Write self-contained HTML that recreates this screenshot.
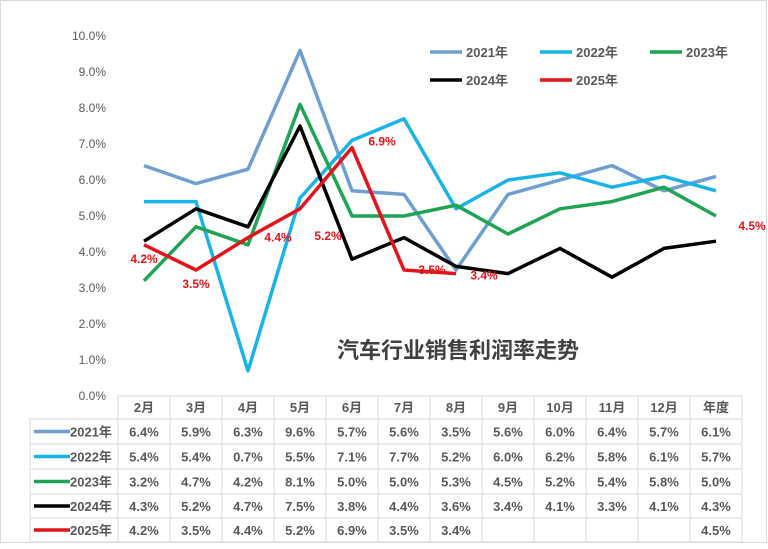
<!DOCTYPE html>
<html><head><meta charset="utf-8"><style>
body{margin:0;background:#fff;}
svg text{font-family:"Liberation Sans","Noto Sans CJK SC",sans-serif;}
</style></head><body>
<svg width="768" height="544" viewBox="0 0 768 544">
<rect x="0.5" y="0.5" width="766" height="542" fill="#fff" stroke="#d9d9d9"/>
<g id="grid"></g><g id="series"></g><g id="table"></g><g id="legend"></g>
<text x="458" y="358" font-size="22" font-weight="bold" fill="#404040" text-anchor="middle">汽车行业销售利润率走势</text>
</svg>
<script>
const categories=["2月","3月","4月","5月","6月","7月","8月","9月","10月","11月","12月","年度"];
const seriesNames=["2021年","2022年","2023年","2024年","2025年"];
const s2021=[6.4,5.9,6.3,9.6,5.7,5.6,3.5,5.6,6.0,6.4,5.7,6.1];
const s2022=[5.4,5.4,0.7,5.5,7.1,7.7,5.2,6.0,6.2,5.8,6.1,5.7];
const s2023=[3.2,4.7,4.2,8.1,5.0,5.0,5.3,4.5,5.2,5.4,5.8,5.0];
const s2024=[4.3,5.2,4.7,7.5,3.8,4.4,3.6,3.4,4.1,3.3,4.1,4.3];
const s2025=[4.2,3.5,4.4,5.2,6.9,3.5,3.4,null,null,null,null,4.5];
const yTicks=[0,1,2,3,4,5,6,7,8,9,10];
const colors=["#6f9fd0","#1ab3e6","#1fa453","#000000","#e3141b"];
const allSeries=[s2021,s2022,s2023,s2024,s2025];
const NS="http://www.w3.org/2000/svg";
const x0=118,cw=52,yBase=396,yPer=36;
const xS=i=>x0+cw*i+cw/2;
const yS=v=>yBase-v*yPer;
function mk(t,a,p,txt){const e=document.createElementNS(NS,t);for(const k in a)e.setAttribute(k,a[k]);if(txt!=null)e.textContent=txt;p.appendChild(e);return e;}
const grid=document.getElementById('grid');
yTicks.forEach(t=>{
 const e=mk('text',{x:106,y:yS(t)+4,'font-size':12,fill:'#595959','text-anchor':'end'},grid,t.toFixed(1)+'%');
 
 
});
const ser=document.getElementById('series');
allSeries.forEach((s,k)=>{
 let d='',pen=false;
 s.forEach((v,i)=>{
  if(k===4&&i===11)return;
  if(v==null){pen=false;return;}
  d+=(pen?'L':'M')+xS(i)+' '+yS(v)+' ';pen=true;
 });
 const p=mk('path',{d:d,fill:'none',stroke:colors[k],'stroke-width':3.5,'stroke-linejoin':'round'},ser);
 
 
});
const offs=[[0,18],[0,18],[30,4],[28,31],[30,-2],[28,4],[28,6],[0,0],[0,0],[0,0],[0,0],[36,-4]];
s2025.forEach((v,i)=>{
 if(v==null)return;
 const t=mk('text',{x:xS(i)+offs[i][0],y:yS(v)+offs[i][1],'font-size':12,'font-weight':'bold',fill:'#e3141b','text-anchor':'middle'},ser,v.toFixed(1)+'%');
 
 
});
const lg=document.getElementById('legend');
const lpos=[[430,52],[540,52],[650,52],[430,80],[540,80]];
seriesNames.forEach((n,k)=>{
 const [x,y]=lpos[k];
 const g=mk('g',{},lg);
 
 
 mk('line',{x1:x,y1:y,x2:x+32,y2:y,stroke:colors[k],'stroke-width':3.5},g);
 mk('text',{x:x+36,y:y+5,'font-size':13,'font-weight':'bold',fill:'#595959'},g,n);
});
const tb=document.getElementById('table');
const rowY=[396,419,444,469,494,518,542];
const tx1=x0+cw*12;
for(let i=0;i<=12;i++) mk('line',{x1:x0+cw*i,y1:396,x2:x0+cw*i,y2:542,stroke:'#d9d9d9'},tb);
mk('line',{x1:30,y1:419,x2:30,y2:542,stroke:'#d9d9d9'},tb);
rowY.forEach((y,r)=>mk('line',{x1:r===0?x0:30,y1:y,x2:tx1,y2:y,stroke:'#d9d9d9'},tb));
categories.forEach((c,i)=>{
 const t=mk('text',{x:xS(i),y:412,'font-size':13,'font-weight':'bold',fill:'#595959','text-anchor':'middle'},tb,c);
 
 
});
allSeries.forEach((s,k)=>{
 const cy=(rowY[k+1]+rowY[k+2])/2+5;
 mk('line',{x1:34,y1:cy-5,x2:70,y2:cy-5,stroke:colors[k],'stroke-width':3.5},tb);
 mk('text',{x:70,y:cy,'font-size':13,'font-weight':'bold',fill:'#595959'},tb,seriesNames[k]);
 s.forEach((v,i)=>{
  if(v==null)return;
  const t=mk('text',{x:xS(i),y:cy,'font-size':13,'font-weight':'bold',fill:'#595959','text-anchor':'middle'},tb,v.toFixed(1)+'%');
  
  
 });
});
</script>
</body></html>
